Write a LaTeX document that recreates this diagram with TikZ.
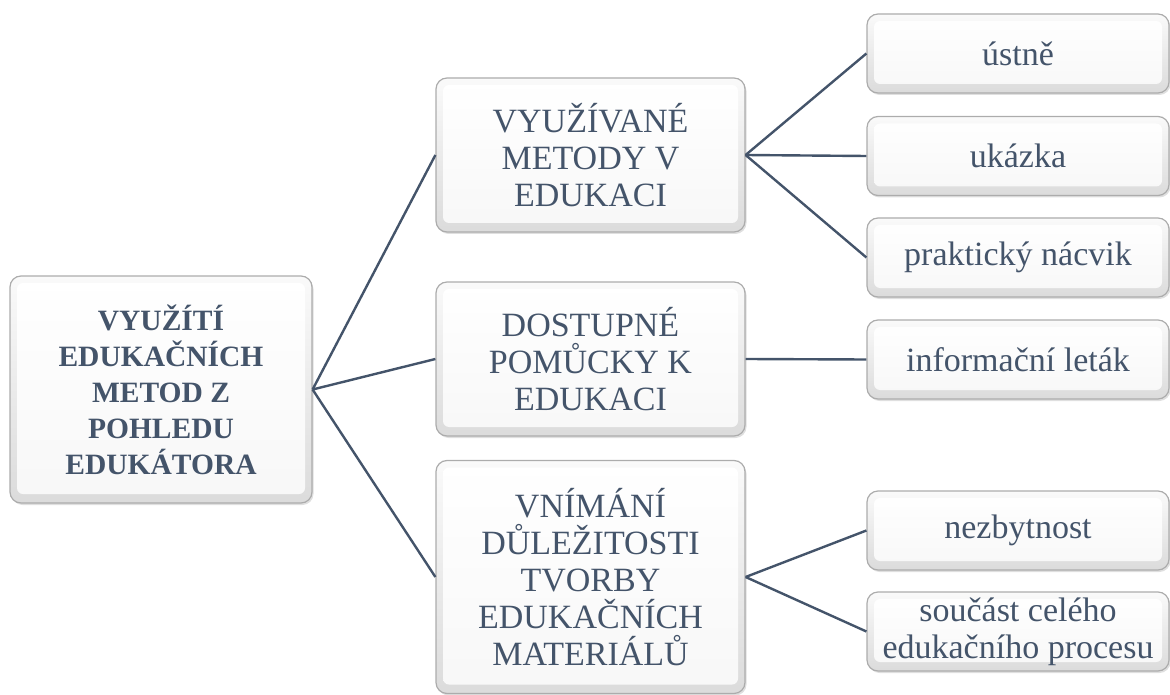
\documentclass[tikz,border=0pt]{standalone}
\usepackage{fontspec}
\setmainfont{Liberation Serif}
\usetikzlibrary{shadows}
\definecolor{slate}{HTML}{44546A}
\tikzset{
	box/.style={draw=gray!65, line width=1.2pt, rounded corners=11pt, top color=gray!4, bottom color=gray!28, text=slate, align=center, inner sep=2pt,
		drop shadow={opacity=0.25, shadow xshift=1.5pt, shadow yshift=-2pt},
		path picture={
			\shade[top color=white, bottom color=gray!6, rounded corners=6pt]
			([shift={(7pt,-7pt)}]path picture bounding box.north west) rectangle
			([shift={(-7pt,9pt)}]path picture bounding box.south east);
		}},
	rootbox/.style={box, minimum width=302pt, minimum height=227pt, font=\fontsize{29.5}{36}\selectfont\bfseries},
	midbox/.style={box, minimum width=309pt, minimum height=154pt, font=\fontsize{34}{37}\selectfont},
	leafbox/.style={box, minimum width=302pt, minimum height=79pt, font=\fontsize{34}{37}\selectfont},
	link/.style={draw=slate, line width=2.4pt}
}
\begin{document}
\begin{tikzpicture}[x=1pt, y=-1pt]
	\useasboundingbox (0,0) rectangle (1170,695);
	
	%root
	\node at (161, 389.5) [rootbox] (root){VYUŽÍTÍ\\EDUKAČNÍCH\\METOD Z\\POHLEDU\\EDUKÁTORA};
	
	%middle column
	\node at (590.5, 155) [midbox] (metody){VYUŽÍVANÉ\\METODY V\\EDUKACI};
	\node at (590.5, 359) [midbox] (pomucky){DOSTUPNÉ\\POMŮCKY K\\EDUKACI};
	\node at (590.5, 577) [midbox, minimum height=233pt] (vnimani){VNÍMÁNÍ\\DŮLEŽITOSTI\\TVORBY\\EDUKAČNÍCH\\MATERIÁLŮ};
	
	%leaves
	\node at (1018, 53.5) [leafbox] (ustne){ústně};
	\node at (1018, 156) [leafbox] (ukazka){ukázka};
	\node at (1018, 257.5) [leafbox] (nacvik){praktický nácvik};
	\node at (1018, 359.5) [leafbox] (letak){informační leták};
	\node at (1018, 530.5) [leafbox] (nezbytnost){nezbytnost};
	\node at (1018, 631.5) [leafbox] (soucast){součást celého\\edukačního procesu};
	
	%connectors
	\foreach \m in {metody, pomucky, vnimani}{
		\draw[link] (root.east) -- (\m.west);
	}
	\foreach \l in {ustne, ukazka, nacvik}{
		\draw[link] (metody.east) -- (\l.west);
	}
	\draw[link] (pomucky.east) -- (letak.west);
	\draw[link] (vnimani.east) -- (nezbytnost.west);
	\draw[link] (vnimani.east) -- (soucast.west);
\end{tikzpicture}
\end{document}
